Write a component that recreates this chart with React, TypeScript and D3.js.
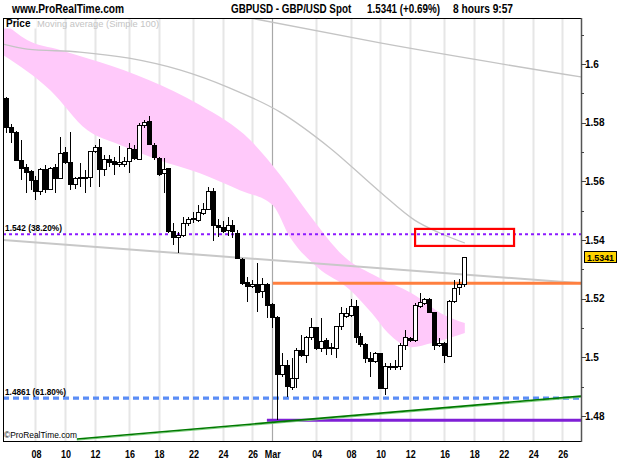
import React from 'react';
import * as d3 from 'd3';

// ---- data (8-hour bars, slot index 0 = Mon 08 Feb first bar) ----
const FIRST_SLOT = -6;
const OPEN = [1.5884,1.5783,1.5768,1.5672,1.5646,1.5633,1.5602,1.5565,1.5639,1.5573,1.5646,1.5609,1.5698,1.5666,1.5589,1.5610,1.5612,1.5612,1.5702,1.5716,1.5641,1.5675,1.5669,1.5656,1.5659,1.5667,1.5709,1.5676,1.5789,1.5803,1.5724,1.5679,1.5627,1.5644,1.5428,1.5409,1.5417,1.5457,1.5470,1.5468,1.5491,1.5505,1.5567,1.5451,1.5443,1.5431,1.5450,1.5423,1.5334,1.5254,1.5243,1.5247,1.5223,1.5250,1.5181,1.5136,1.4940,1.4974,1.4898,1.4928,1.5025,1.5005,1.5068,1.5102,1.5031,1.5057,1.5031,1.5031,1.5104,1.5141,1.5143,1.5175,1.5070,1.5043,1.4997,1.4985,1.5014,1.4894,1.4970,1.4970,1.4968,1.5042,1.5065,1.5057,1.5175,1.5184,1.5198,1.5152,1.5039,1.5048,1.5002,1.5190,1.5239,1.5247];
const HIGH = [1.5888,1.5796,1.5773,1.5741,1.5659,1.5639,1.5618,1.5644,1.5657,1.5648,1.5659,1.5750,1.5718,1.5768,1.5614,1.5664,1.5639,1.5704,1.5724,1.5743,1.5689,1.5689,1.5684,1.5720,1.5684,1.5730,1.5724,1.5798,1.5809,1.5823,1.5730,1.5684,1.5679,1.5645,1.5457,1.5428,1.5479,1.5477,1.5496,1.5519,1.5525,1.5580,1.5576,1.5471,1.5466,1.5477,1.5468,1.5434,1.5338,1.5275,1.5264,1.5321,1.5269,1.5252,1.5184,1.5141,1.5014,1.4991,1.4997,1.5031,1.5076,1.5073,1.5133,1.5104,1.5133,1.5065,1.5049,1.5106,1.5173,1.5168,1.5198,1.5195,1.5082,1.5048,1.5019,1.5019,1.5016,1.4980,1.4980,1.4991,1.5048,1.5093,1.5068,1.5184,1.5218,1.5203,1.5201,1.5156,1.5065,1.5053,1.5195,1.5264,1.5266,1.5343];
const LOW = [1.5765,1.5731,1.5668,1.5605,1.5559,1.5570,1.5536,1.5553,1.5561,1.5570,1.5561,1.5607,1.5659,1.5570,1.5575,1.5582,1.5561,1.5582,1.5696,1.5582,1.5618,1.5648,1.5622,1.5649,1.5650,1.5627,1.5673,1.5673,1.5781,1.5724,1.5673,1.5618,1.5559,1.5425,1.5383,1.5355,1.5411,1.5448,1.5457,1.5462,1.5485,1.5502,1.5398,1.5411,1.5425,1.5414,1.5406,1.5336,1.5247,1.5190,1.5236,1.5156,1.5201,1.5133,1.5099,1.4786,1.4934,1.4866,1.4889,1.4894,1.5002,1.4980,1.5059,1.5025,1.5019,1.5008,1.5008,1.4997,1.5093,1.5134,1.5138,1.5048,1.5036,1.4980,1.4934,1.4980,1.4891,1.4872,1.4957,1.4957,1.4957,1.5025,1.5053,1.5053,1.5167,1.5178,1.5150,1.5025,1.5036,1.4980,1.5000,1.5184,1.5212,1.5241];
const CLOSE = [1.5784,1.5766,1.5670,1.5643,1.5629,1.5602,1.5565,1.5642,1.5573,1.5643,1.5609,1.5696,1.5664,1.5589,1.5609,1.5613,1.5610,1.5702,1.5716,1.5641,1.5673,1.5666,1.5659,1.5664,1.5667,1.5713,1.5679,1.5789,1.5800,1.5727,1.5682,1.5622,1.5641,1.5428,1.5409,1.5417,1.5457,1.5471,1.5472,1.5493,1.5505,1.5567,1.5451,1.5443,1.5428,1.5448,1.5428,1.5338,1.5252,1.5243,1.5247,1.5220,1.5250,1.5178,1.5136,1.4940,1.4974,1.4900,1.4928,1.5025,1.5008,1.5068,1.5102,1.5031,1.5053,1.5031,1.5033,1.5104,1.5150,1.5148,1.5175,1.5068,1.5045,1.4997,1.4985,1.5014,1.4894,1.4970,1.4966,1.4966,1.5042,1.5068,1.5057,1.5178,1.5186,1.5198,1.5152,1.5042,1.5048,1.5005,1.5190,1.5235,1.5247,1.5341];

// pink band edges (slot, price)
const BAND_UPPER: [number, number][] = [[-6.6,1.6143],[-1.7,1.6082],[5,1.6048],[13,1.6007],[23,1.5946],[33.4,1.5860],[43.6,1.5741],[49.7,1.5622],[55.7,1.5485],[62.8,1.5342],[69.5,1.5274],[76.4,1.5219],[83.1,1.5144],[87.2,1.5117]];
const BAND_LOWER: [number, number][] = [[-6.6,1.6031],[3,1.5911],[10.5,1.5775],[17.2,1.5724],[25,1.5673],[33.4,1.5628],[41.5,1.5570],[48.2,1.5519],[51.7,1.5410],[57.2,1.5308],[63.9,1.5230],[68.3,1.5151],[71.6,1.5083],[76.4,1.5035],[80.5,1.5049],[87.2,1.5083]];
// simple moving average 100 (slot, price)
const SMA100: [number, number][] = [[-6.6,1.6068],[-1.7,1.6051],[9,1.6041],[19,1.6020],[29.3,1.5980],[39.5,1.5918],[49.7,1.5836],[59.8,1.5714],[70,1.5564],[77,1.5468],[82.1,1.5424],[87.2,1.5390]];
const LONG_LINE: [number, number][] = [[43.6,1.6157],[70,1.6072],[110.8,1.5956]];
const TREND_GRAY: [number, number][] = [[-6.6,1.5400],[110.8,1.5253]];
const TREND_GREEN: [number, number][] = [[8.4,1.4722],[110.8,1.4868]];
const FIB_382 = 1.542;
const FIB_618 = 1.4861;
const ORANGE_LEVEL = 1.5253, ORANGE_FROM = 48.2;
const LOW_LEVEL = 1.4786, LOW_FROM = 47;
const RED_BOX = { s0: 77.1, s1: 97.2, p0: 1.5438, p1: 1.5380 };
const LAST_PRICE = 1.5341;

const X_TICKS: { s: number; label: string }[] = [
  { s: 0, label: '08' }, { s: 6, label: '10' }, { s: 12, label: '12' }, { s: 19, label: '16' },
  { s: 25, label: '18' }, { s: 32, label: '22' }, { s: 38, label: '24' }, { s: 44, label: '26' },
  { s: 48, label: 'Mar' }, { s: 57, label: '04' }, { s: 64, label: '08' }, { s: 70, label: '10' },
  { s: 76, label: '12' }, { s: 83, label: '16' }, { s: 89, label: '18' }, { s: 95, label: '22' },
  { s: 101, label: '24' }, { s: 107, label: '26' },
];
const Y_MAJOR = [1.48, 1.5, 1.52, 1.54, 1.56, 1.58, 1.6];
const Y_MINOR = [1.49, 1.51, 1.53, 1.55, 1.57, 1.59, 1.61];

const FONT = '"Liberation Sans", Arial, sans-serif';

function NarrowText(props: { x: number; y: number; size: number; k?: number; anchor?: string; bold?: boolean; fill?: string; children: React.ReactNode }) {
  const k = props.k ?? 0.8;
  return (
    <text transform={`translate(${props.x},${props.y}) scale(${k},1)`} fontSize={props.size}
      fontWeight={props.bold === false ? 'normal' : 'bold'} textAnchor={props.anchor ?? 'start'} fill={props.fill ?? '#000'}>
      {props.children}
    </text>
  );
}

export default function App() {
  const W = 625, H = 469;
  const L = 3, R = 581, T = 18, B = 441;
  const x = d3.scaleLinear().domain([-6.6, 110.8]).range([L, R]);
  const y = d3.scaleLinear().domain([1.4715, 1.6157]).range([B, T]);

  const line = d3.line<[number, number]>().x(d => x(d[0])).y(d => y(d[1]));
  const smooth = d3.line<[number, number]>().x(d => x(d[0])).y(d => y(d[1])).curve(d3.curveMonotoneX);
  const bandPath = smooth(BAND_UPPER)! + smooth([...BAND_LOWER].reverse())!.replace(/^M/, 'L') + 'Z';

  const candles = OPEN.map((o, i) => ({ s: FIRST_SLOT + i, o, h: HIGH[i], l: LOW[i], c: CLOSE[i] }));

  return (
    <svg width={W} height={H} style={{ position: 'absolute', left: 0, top: 0, background: '#fff' }} fontFamily={FONT}>
      <rect x={0} y={0} width={W} height={H} fill="#fff" />
      <defs>
        <clipPath id="plot"><rect x={L} y={T} width={R - L} height={B - T} /></clipPath>
      </defs>
      <g clipPath="url(#plot)">
        {X_TICKS.map((t, i) => (
          <line key={i} x1={Math.round(x(t.s)) + 0.5} x2={Math.round(x(t.s)) + 0.5} y1={T} y2={B}
            stroke={t.label === 'Mar' ? '#a8a8a8' : '#e6e6e6'} strokeWidth={t.label === 'Mar' ? 1.2 : 2} />
        ))}
        <path d={bandPath} fill="#ffc9fa" />
        <path d={smooth(SMA100)!} fill="none" stroke="#c4c4c4" strokeWidth={1.3} />
        <path d={smooth(LONG_LINE)!} fill="none" stroke="#c4c4c4" strokeWidth={1.3} />
        <path d={line(TREND_GRAY)!} fill="none" stroke="#c8c8c8" strokeWidth={2} />
        <line x1={L} x2={R} y1={y(FIB_382)} y2={y(FIB_382)} stroke="#8c1aff" strokeWidth={2} strokeDasharray="3,3" />
        <line x1={L} x2={R} y1={y(FIB_618)} y2={y(FIB_618)} stroke="#5b8df6" strokeWidth={3.3} strokeDasharray="6,4" />
        <line x1={x(ORANGE_FROM)} x2={R} y1={y(ORANGE_LEVEL)} y2={y(ORANGE_LEVEL)} stroke="#ff7f3f" strokeWidth={3} />
        <line x1={x(LOW_FROM)} x2={R} y1={y(LOW_LEVEL)} y2={y(LOW_LEVEL)} stroke="#7f1fd6" strokeWidth={3} />
        <path d={line(TREND_GREEN)!} fill="none" stroke="#7fd07f" strokeWidth={1} transform="translate(0,1.2)" />
        <path d={line(TREND_GREEN)!} fill="none" stroke="#007a00" strokeWidth={1.6} />
        <rect x={x(RED_BOX.s0)} y={y(RED_BOX.p0)} width={x(RED_BOX.s1) - x(RED_BOX.s0)} height={y(RED_BOX.p1) - y(RED_BOX.p0)}
          fill="none" stroke="#ff0000" strokeWidth={2.2} />
        <g shapeRendering="crispEdges">
          {candles.map(d => {
            const cx = Math.round(x(d.s));
            const top = y(Math.max(d.o, d.c));
            const bot = y(Math.min(d.o, d.c));
            const up = d.c >= d.o;
            return (
              <g key={d.s}>
                <line x1={cx + 0.5} x2={cx + 0.5} y1={y(d.h)} y2={y(d.l)} stroke="#000" strokeWidth={1} />
                <rect x={cx - 1.5} y={top} width={4} height={Math.max(1, bot - top)}
                  fill={up ? '#fff' : '#000'} stroke="#000" strokeWidth={1} />
              </g>
            );
          })}
        </g>
      </g>
      {/* labels inside plot */}
      <rect x={L + 0.5} y={T + 0.5} width={33} height={10} fill="#fff" />
      <text x={6} y={27} fontSize={10} fontWeight="bold" fill="#000">Price</text>
      <text x={37} y={27} fontSize={9.5} fill="#c4c4c4" textLength={122} lengthAdjust="spacingAndGlyphs">Moving average (Simple 100)</text>
      <text x={5} y={231} fontSize={9} fontWeight="bold" fill="#000" textLength={57} lengthAdjust="spacingAndGlyphs">1.542 (38.20%)</text>
      <text x={5} y={395} fontSize={9} fontWeight="bold" fill="#000" textLength={61} lengthAdjust="spacingAndGlyphs">1.4861 (61.80%)</text>
      <text x={4} y={438} fontSize={9} fill="#000" textLength={73} lengthAdjust="spacingAndGlyphs">©ProRealTime.com</text>
      {/* frame */}
      <rect x={L + 0.5} y={T + 0.5} width={R - L} height={B - T} fill="none" stroke="#000" strokeWidth={1} />
      <line x1={R + 0.5} x2={R + 0.5} y1={T} y2={B + 1} stroke="#555" strokeWidth={1.5} />
      {/* y axis */}
      {Y_MAJOR.map(v => (
        <g key={v}>
          <line x1={R} x2={R + 5} y1={Math.round(y(v)) + 0.5} y2={Math.round(y(v)) + 0.5} stroke="#444" />
          <text x={585} y={y(v) + 3.5} fontSize={10} fontWeight="bold" fill="#000">{d3.format('')(v)}</text>
        </g>
      ))}
      {Y_MINOR.filter(v => y(v) > T && y(v) < B).map(v => (
        <line key={v} x1={R} x2={R + 3} y1={Math.round(y(v)) + 0.5} y2={Math.round(y(v)) + 0.5} stroke="#444" />
      ))}
      {/* last price tag */}
      <rect x={584.5} y={Math.round(y(LAST_PRICE)) - 5.5} width={32} height={11} fill="#ffd200" stroke="#000" strokeWidth={1} />
      <NarrowText x={600.5} y={y(LAST_PRICE) + 3.5} size={9.5} anchor="middle" k={0.93}>{LAST_PRICE.toFixed(4)}</NarrowText>
      {/* x axis labels */}
      {X_TICKS.map((t, i) => (
        <NarrowText key={i} x={x(t.s) + 1} y={458} size={11.5} anchor="middle" k={0.78}>{t.label}</NarrowText>
      ))}
      {/* header */}
      <NarrowText x={12} y={13} size={12} k={0.85}>www.ProRealTime.com</NarrowText>
      <NarrowText x={231} y={13} size={12} k={0.82}>GBPUSD - GBP/USD Spot</NarrowText>
      <NarrowText x={367} y={13} size={12} k={0.82}>{LAST_PRICE.toFixed(4) + ' (+0.69%)'}</NarrowText>
      <NarrowText x={453} y={13} size={12} k={0.85}>8 hours  9:57</NarrowText>
    </svg>
  );
}
